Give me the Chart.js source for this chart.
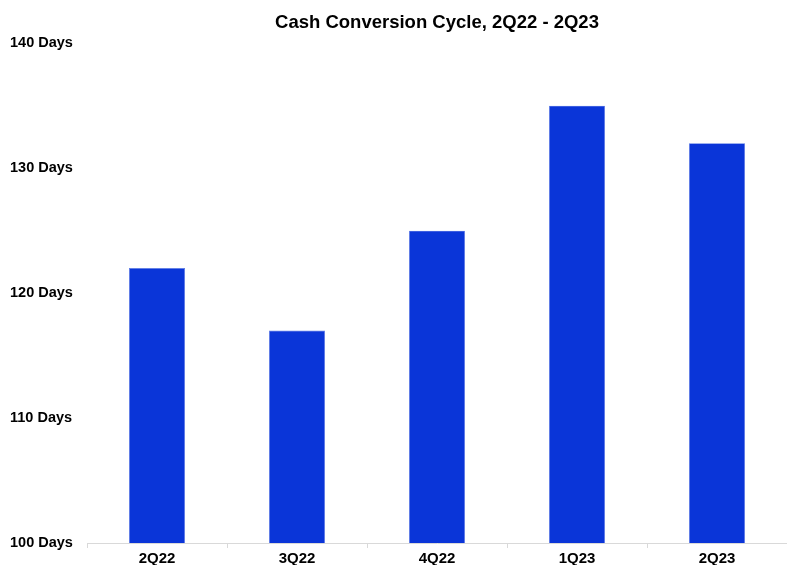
<!DOCTYPE html>
<html>
<head>
<meta charset="utf-8">
<script src="https://cdn.jsdelivr.net/npm/chart.js@4/dist/chart.umd.min.js"></script>
<style>
  body { margin: 0; background: #fff; }
  #wrap { width: 787px; height: 565px; }
</style>
</head>
<body>
<div id="wrap"><canvas id="myChart"></canvas></div>
<script>
const quarters = ["2Q22", "3Q22", "4Q22", "1Q23", "2Q23"];
const cycleDays = [122, 117, 125, 135, 132];
const yTicks = [100, 110, 120, 130, 140];

const fontFamily = "'Liberation Sans', Arial, sans-serif";

const data = {
    labels: quarters,
    datasets: [
        {
            label: "Cash Conversion Cycle",
            backgroundColor: "#0a35d8",
            borderColor: "#5c7be6",
            borderWidth: 0.6,
            data: cycleDays,
            barPercentage: 0.8,
            categoryPercentage: 0.5,
        },
    ],
};

const config = {
    type: "bar",
    data: data,
    options: {
        responsive: true,
        maintainAspectRatio: false,
        animation: false,
        layout: { padding: { left: 10, right: 0, top: 0, bottom: 0 } },
        plugins: {
            legend: { display: false },
            tooltip: { enabled: false },
            title: {
                display: true,
                fullSize: false,
                text: "Cash Conversion Cycle, 2Q22 - 2Q23",
                color: "#000",
                font: { family: fontFamily, size: 18.5, weight: "bold" },
                padding: { top: 12, bottom: 9 },
            },
        },
        scales: {
            x: {
                afterFit: (scale) => {
                    scale.height = 22;
                },
                grid: {
                    offset: true,
                    drawOnChartArea: false,
                    drawTicks: true,
                    tickLength: 5,
                    color: "#d9d9d9",
                },
                border: { display: true, color: "#d9d9d9", width: 1 },
                ticks: {
                    color: "#000",
                    padding: 2,
                    font: { family: fontFamily, size: 15, weight: "bold" },
                },
            },
            y: {
                min: 100,
                max: 140,
                afterBuildTicks: (scale) => {
                    scale.ticks = yTicks.map((v) => ({ value: v }));
                },
                afterFit: (scale) => {
                    scale.width = 77;
                },
                grid: { display: false },
                border: { display: false },
                ticks: {
                    color: "#000",
                    crossAlign: "far",
                    font: { family: fontFamily, size: 14.5, weight: "bold" },
                    callback: (v) => v + " Days",
                },
            },
        },
    },
};

new Chart(document.getElementById("myChart"), config);
</script>
</body>
</html>
